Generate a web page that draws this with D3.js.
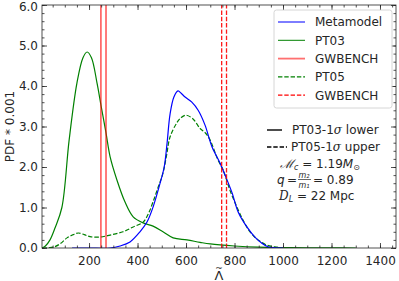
<!DOCTYPE html>
<html>
<head>
<meta charset="utf-8">
<script src="https://cdn.jsdelivr.net/npm/d3@7"></script>
<style>
  body { margin: 0; background: #fff; }
  svg text { font-family: "DejaVu Sans", sans-serif; fill: #262626; }
</style>
</head>
<body>
<div id="chart"></div>
<script>
// values
var xTicks = [200, 400, 600, 800, 1000, 1200, 1400];
var yTicks = [0, 1, 2, 3, 4, 5, 6];

var metaLam = [130, 200, 287, 328, 369, 410, 439, 464, 493, 510, 522, 534, 550, 567, 580, 596, 624, 650, 678, 707, 740, 761, 790, 815, 851, 884, 913, 938, 960, 1000];
var metaPdf = [0, 0, 0, 0.05, 0.15, 0.4, 0.64, 1.01, 1.6, 2.0, 2.6, 3.3, 3.73, 3.88, 3.82, 3.73, 3.6, 3.4, 3.04, 2.5, 2.1, 1.8, 1.36, 0.89, 0.52, 0.27, 0.12, 0.03, 0.01, 0];

var pt03Lam = [6, 20, 39, 60, 88, 118, 150, 175, 192, 210, 233, 250, 270, 287, 315, 348, 382, 423, 464, 505, 547, 604, 658, 700, 800, 900, 1000, 1100, 1200, 1300];
var pt03Pdf = [0, 0.05, 0.2, 0.5, 1.0, 2.67, 4.07, 4.7, 4.84, 4.7, 4.07, 3.5, 2.84, 2.25, 1.68, 1.14, 0.77, 0.62, 0.54, 0.40, 0.25, 0.2, 0.14, 0.1, 0.05, 0.02, 0.01, 0.005, 0.003, 0];

var pt05Lam = [8, 52, 80, 109, 135, 156, 180, 204, 245, 287, 340, 382, 423, 445, 464, 485, 505, 520, 534, 562, 580, 600, 630, 658, 680, 699, 732, 753, 781, 810, 835, 864, 897, 934, 975, 1000];
var pt05Pdf = [0, 0.02, 0.1, 0.25, 0.33, 0.37, 0.33, 0.28, 0.27, 0.32, 0.40, 0.52, 0.64, 0.85, 1.14, 1.5, 1.85, 2.3, 2.74, 3.09, 3.22, 3.28, 3.18, 2.95, 2.84, 2.67, 2.17, 1.93, 1.43, 1.01, 0.69, 0.40, 0.2, 0.07, 0.02, 0];

var gwPT03 = [249, 270];   // solid red
var gwPT05 = [747, 767];   // dashed red

var W = 399, H = 281;
var L = 42, R = 396, T = 5, B = 248;

var svg = d3.select("#chart").append("svg").attr("width", W).attr("height", H);

var x = d3.scaleLinear().domain([6, 1466]).range([L, R]);
var y = d3.scaleLinear().domain([0, 6]).range([B, T]);

var plot = svg.append("g");
plot.append("clipPath").attr("id", "clip").append("rect")
  .attr("x", L).attr("y", T).attr("width", R - L).attr("height", B - T);
var g = plot.append("g").attr("clip-path", "url(#clip)");

var line = d3.line().x(function(d) { return x(d[0]); }).y(function(d) { return y(d[1]); })
  .curve(d3.curveCatmullRom.alpha(0.5));

function curve(lam, pdf, color, dash, w) {
  g.append("path").datum(d3.zip(lam, pdf))
    .attr("d", line).attr("fill", "none")
    .attr("stroke", color).attr("stroke-width", w)
    .attr("stroke-dasharray", dash);
}

curve(pt03Lam, pt03Pdf, "#008000", null, 1.2);
curve(pt05Lam, pt05Pdf, "#008000", "4.4,1.9", 1.2);
curve(metaLam, metaPdf, "#0000ff", null, 1.2);

gwPT03.forEach(function(v) {
  g.append("line").attr("x1", x(v)).attr("x2", x(v)).attr("y1", y(0)).attr("y2", y(6))
    .attr("stroke", "#ff0000").attr("stroke-opacity", 0.8).attr("stroke-width", 1.3);
});
gwPT05.forEach(function(v) {
  g.append("line").attr("x1", x(v)).attr("x2", x(v)).attr("y1", y(0)).attr("y2", y(6))
    .attr("stroke", "#ff0000").attr("stroke-opacity", 0.9).attr("stroke-width", 1.3)
    .attr("stroke-dasharray", "4.4,1.9");
});

// axes with inward ticks on all sides
function ax(axis, tr) {
  var a = svg.append("g").attr("transform", tr).call(axis);
  a.select(".domain").remove();
  a.selectAll("line").attr("stroke", "#262626").attr("stroke-width", 0.8);
  a.selectAll("text").style("font-size", "12px").attr("fill", "#262626");
  return a;
}
var xMinor = d3.range(50, 1466, 50);
var yMinor = d3.range(0, 6.01, 0.2);

ax(d3.axisBottom(x).tickValues(xMinor).tickSize(-2.5).tickFormat(""), "translate(0," + B + ")");
ax(d3.axisTop(x).tickValues(xMinor).tickSize(-2.5).tickFormat(""), "translate(0," + T + ")");
ax(d3.axisLeft(y).tickValues(yMinor).tickSize(-2.5).tickFormat(""), "translate(" + L + ",0)");
ax(d3.axisRight(y).tickValues(yMinor).tickSize(-2.5).tickFormat(""), "translate(" + R + ",0)");

ax(d3.axisBottom(x).tickValues(xTicks).tickSize(-5).tickPadding(8).tickFormat(d3.format("d")), "translate(0," + B + ")");
ax(d3.axisTop(x).tickValues(xTicks).tickSize(-5).tickFormat(""), "translate(0," + T + ")");
var yl = ax(d3.axisLeft(y).tickValues(yTicks).tickSize(-5).tickPadding(4).tickFormat(d3.format(".1f")), "translate(" + L + ",0)");
yl.selectAll("text").filter(function(d) { return d === 6; }).attr("dy", "0.38em").attr("y", 0.5);
ax(d3.axisRight(y).tickValues(yTicks).tickSize(-5).tickFormat(""), "translate(" + R + ",0)");

svg.append("rect").attr("x", L).attr("y", T).attr("width", R - L).attr("height", B - T)
  .attr("fill", "none").attr("stroke", "#262626").attr("stroke-width", 0.8);

// axis labels
svg.append("text").attr("transform", "translate(14," + ((T + B) / 2) + ") rotate(-90)")
  .attr("text-anchor", "middle").style("font-size", "12px").text("PDF * 0.001");
svg.append("text").attr("x", (L + R) / 2).attr("y", 280).attr("text-anchor", "middle")
  .style("font-size", "13px").text("\u039B");
svg.append("text").attr("x", (L + R) / 2).attr("y", 270.5).attr("text-anchor", "middle")
  .style("font-size", "9px").text("~");

// legend
var leg = svg.append("g");
leg.append("rect").attr("x", 274).attr("y", 10).attr("width", 118).attr("height", 98)
  .attr("rx", 2.5).attr("fill", "#fff").attr("fill-opacity", 0.8)
  .attr("stroke", "#cccccc").attr("stroke-width", 0.8);
var items = [
  {t: "Metamodel", c: "#6f6fff", d: null, w: 1.8},
  {t: "PT03", c: "#008000", d: null, w: 1},
  {t: "GWBENCH", c: "#ff7070", d: null, w: 1.8},
  {t: "PT05", c: "#008000", d: "4.4,1.9", w: 1.3},
  {t: "GWBENCH", c: "#ff0000", d: "4.4,1.9", w: 1.3}
];
items.forEach(function(it, i) {
  var yy = 22 + i * 18.3;
  leg.append("line").attr("x1", 278).attr("x2", 305).attr("y1", yy).attr("y2", yy)
    .attr("stroke", it.c).attr("stroke-width", it.w).attr("stroke-dasharray", it.d);
  leg.append("text").attr("x", 315).attr("y", yy + 4.3).style("font-size", "12px").text(it.t);
});

// annotations
svg.append("line").attr("x1", 267).attr("x2", 282).attr("y1", 130).attr("y2", 130)
  .attr("stroke", "#000").attr("stroke-width", 1.4);
var t1 = svg.append("text").attr("x", 292).attr("y", 134.3).style("font-size", "12px");
t1.append("tspan").text("PT03-1");
t1.append("tspan").style("font-style", "italic").style("font-family", "DejaVu Serif").text("\u03C3");
t1.append("tspan").text(" lower");

svg.append("line").attr("x1", 267).attr("x2", 287).attr("y1", 147).attr("y2", 147)
  .attr("stroke", "#000").attr("stroke-width", 1.4).attr("stroke-dasharray", "4.4,1.9");
var t2 = svg.append("text").attr("x", 291).attr("y", 151.3).style("font-size", "12px");
t2.append("tspan").text("PT05-1");
t2.append("tspan").style("font-style", "italic").style("font-family", "DejaVu Serif").text("\u03C3");
t2.append("tspan").text(" upper");

var m = svg.append("text").attr("x", 280).attr("y", 167.5).style("font-size", "12px");
m.append("tspan").style("font-style", "italic").style("font-family", "DejaVu Serif").text("\u2133");
m.append("tspan").attr("dy", 2.5).style("font-size", "8px").style("font-style", "italic").text("c");
m.append("tspan").attr("dy", -2.5).text(" = 1.19");
m.append("tspan").style("font-style", "italic").text("M");
m.append("tspan").attr("dy", 2.5).style("font-size", "8px").text("\u2299");

var q = svg.append("g");
q.append("text").attr("x", 277).attr("y", 183.5).style("font-size", "12px")
  .style("font-style", "italic").text("q");
q.append("text").attr("x", 287).attr("y", 183.5).style("font-size", "12px").text("=");
q.append("text").attr("x", 304).attr("y", 178).attr("text-anchor", "middle")
  .style("font-size", "8px").style("font-style", "italic").text("m\u2082");
q.append("line").attr("x1", 298).attr("x2", 311).attr("y1", 179.5).attr("y2", 179.5)
  .attr("stroke", "#262626").attr("stroke-width", 0.7);
q.append("text").attr("x", 304).attr("y", 187.5).attr("text-anchor", "middle")
  .style("font-size", "8px").style("font-style", "italic").text("m\u2081");
q.append("text").attr("x", 313).attr("y", 183.5).style("font-size", "12px").text(" = 0.89");

var dl = svg.append("text").attr("x", 279).attr("y", 199.5).style("font-size", "12px");
dl.append("tspan").style("font-style", "italic").style("font-family", "DejaVu Serif").text("D");
dl.append("tspan").attr("dy", 2.5).style("font-size", "8px").style("font-style", "italic").text("L");
dl.append("tspan").attr("dy", -2.5).text(" = 22 Mpc");
</script>
</body>
</html>
